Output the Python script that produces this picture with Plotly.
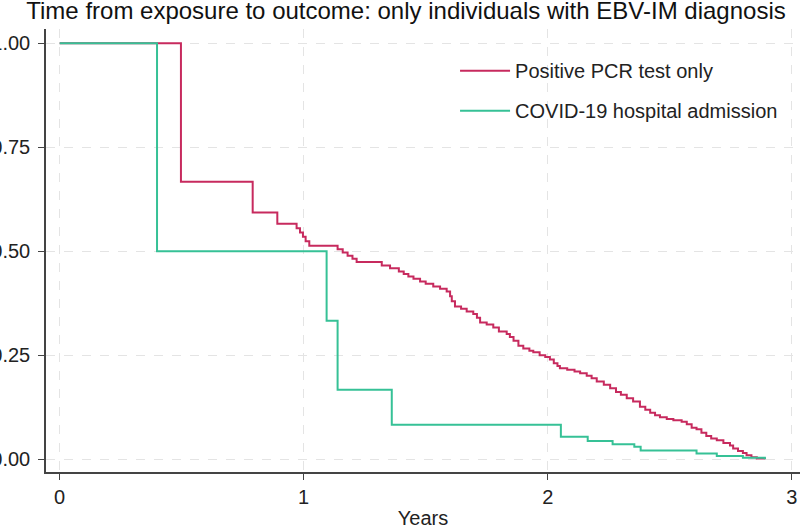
import plotly.graph_objects as go

# Kaplan-Meier style curves
pcr_t = [0, 0.497, 0.791, 0.892, 0.971, 0.985, 0.997, 1.008, 1.023, 1.139, 1.16, 1.18, 1.20, 1.217,
         1.32, 1.354, 1.39, 1.41, 1.429, 1.45, 1.477, 1.50, 1.531, 1.559, 1.586, 1.600, 1.607, 1.62,
         1.645, 1.668, 1.695, 1.71, 1.723, 1.75, 1.777, 1.80, 1.832, 1.845, 1.86, 1.88, 1.90, 1.925,
         1.941, 1.967, 1.99, 2.009, 2.025, 2.04, 2.05, 2.08, 2.11, 2.133, 2.16, 2.18, 2.201, 2.23,
         2.256, 2.28, 2.30, 2.324, 2.35, 2.378, 2.40, 2.42, 2.44, 2.46, 2.488, 2.515, 2.549, 2.57,
         2.59, 2.61, 2.63, 2.65, 2.67, 2.693, 2.72, 2.747, 2.76, 2.78, 2.80, 2.815, 2.835, 2.857, 2.89]
pcr_s = [1.0, 0.667, 0.593, 0.566, 0.555, 0.545, 0.535, 0.524, 0.513, 0.505, 0.497, 0.489, 0.482, 0.474,
         0.466, 0.459, 0.451, 0.445, 0.439, 0.434, 0.427, 0.422, 0.415, 0.410, 0.403, 0.392, 0.380, 0.367,
         0.362, 0.355, 0.349, 0.340, 0.329, 0.324, 0.317, 0.307, 0.301, 0.294, 0.285, 0.273, 0.266, 0.261,
         0.257, 0.250, 0.246, 0.240, 0.231, 0.224, 0.219, 0.215, 0.211, 0.207, 0.201, 0.195, 0.187, 0.179,
         0.171, 0.162, 0.155, 0.147, 0.139, 0.126, 0.119, 0.112, 0.106, 0.101, 0.097, 0.094, 0.090, 0.084,
         0.076, 0.072, 0.064, 0.056, 0.050, 0.046, 0.039, 0.033, 0.026, 0.020, 0.015, 0.010, 0.005, 0.002, 0.0]

hosp_t = [0, 0.399, 1.094, 1.139, 1.361, 2.054, 2.164, 2.266, 2.355, 2.381, 2.61, 2.693, 2.80, 2.89]
hosp_s = [1.0, 0.5, 0.333, 0.167, 0.083, 0.054, 0.044, 0.036, 0.030, 0.021, 0.014, 0.008, 0.004, 0.0]

series_names = ["Positive PCR test only", "COVID-19 hospital admission"]
colors = ["#C72A5E", "#36C196"]

x_ticks = [0, 1, 2, 3]
y_ticks = [0, 0.25, 0.5, 0.75, 1.0]
y_tick_labels = ["0.00", "0.25", "0.50", "0.75", "1.00"]

fig = go.Figure()
fig.add_trace(go.Scatter(x=pcr_t, y=pcr_s, mode="lines", line=dict(shape="hv", color=colors[0], width=2),
                         name=series_names[0], legendgroup="a"))
fig.add_trace(go.Scatter(x=hosp_t, y=hosp_s, mode="lines", line=dict(shape="hv", color=colors[1], width=2),
                         name=series_names[1], legendgroup="b"))

font_family = "Liberation Sans, Arial, sans-serif"
fig.update_layout(
    width=800, height=530,
    margin=dict(l=46, r=0, t=29, b=58),
    paper_bgcolor="white", plot_bgcolor="white",
    font=dict(family=font_family, size=20, color="#222"),
    title=dict(text="Time from exposure to outcome: only individuals with EBV-IM diagnosis",
               x=406/800, xanchor="center", xref="container", y=0.995, yanchor="top",
               font=dict(size=24, color="#111")),
    showlegend=True,
    legend=dict(x=0.5425, y=0.95, xanchor="left", yanchor="top", bgcolor="rgba(0,0,0,0)",
                font=dict(size=20, color="#222"), tracegroupgap=11, itemwidth=50),
)
fig.update_xaxes(range=[-0.056, 3.034], tickvals=x_ticks, ticks="outside", ticklen=6, tickwidth=1.2,
                 tickcolor="#444", showline=True, linecolor="#444", linewidth=1.5, zeroline=False,
                 showgrid=True, gridcolor="#e4e4e4", griddash="dash", gridwidth=1,
                 automargin=False, title=dict(text="Years", font=dict(size=20), standoff=4))
fig.update_yaxes(range=[-0.0305, 1.034], tickvals=y_ticks, ticktext=y_tick_labels, ticks="outside",
                 ticklen=6, tickwidth=1.2, tickcolor="#444", showline=True, linecolor="#444", linewidth=1.5,
                 zeroline=False, showgrid=True, gridcolor="#e4e4e4", griddash="dash", gridwidth=1,
                 automargin=False, ticklabelstandoff=4)

fig.write_html("out.html", config={"displayModeBar": False},
               post_script="document.body.style.margin='0';document.body.style.overflow='hidden';")
